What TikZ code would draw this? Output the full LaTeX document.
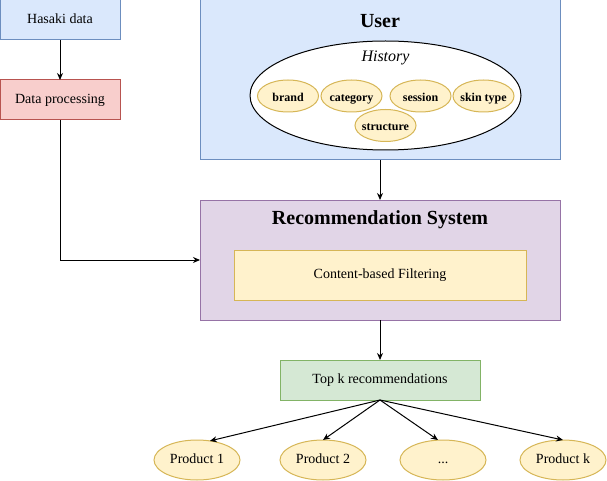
\documentclass[tikz,border=0pt]{standalone}
\usepackage{fontspec}
\setmainfont{Liberation Serif}
\usetikzlibrary{shapes.geometric,arrows.meta,calc}
\definecolor{bluefill}{HTML}{DAE8FC}
\definecolor{bluedraw}{HTML}{6C8EBF}
\definecolor{redfill}{HTML}{F8CECC}
\definecolor{reddraw}{HTML}{B85450}
\definecolor{purplefill}{HTML}{E1D5E7}
\definecolor{purpledraw}{HTML}{9673A6}
\definecolor{yellowfill}{HTML}{FFF2CC}
\definecolor{yellowdraw}{HTML}{D6B656}
\definecolor{greenfill}{HTML}{D5E8D4}
\definecolor{greendraw}{HTML}{82B366}
\begin{document}
\begin{tikzpicture}[x=1pt,y=-1pt,
  every node/.style={inner sep=0pt, outer sep=0pt},
  boxnode/.style={rectangle, draw, line width=1pt, font=\fontsize{14}{16}\selectfont, text height=9.5pt, text depth=3pt},
  bluebox/.style={boxnode, fill=bluefill, draw=bluedraw},
  redbox/.style={boxnode, fill=redfill, draw=reddraw},
  purplebox/.style={boxnode, fill=purplefill, draw=purpledraw},
  yellowbox/.style={boxnode, fill=yellowfill, draw=yellowdraw},
  greenbox/.style={boxnode, fill=greenfill, draw=greendraw},
  titletext/.style={font=\fontsize{20}{22}\selectfont\bfseries},
  attr/.style={ellipse, draw=yellowdraw, fill=yellowfill, line width=1pt,
    minimum width=61pt, minimum height=32pt, font=\fontsize{12}{14}\selectfont\bfseries,
    text height=13.5pt, text depth=2.6pt, inner xsep=-3pt},
  prod/.style={ellipse, draw=yellowdraw, fill=yellowfill, line width=1pt,
    minimum width=86pt, minimum height=40pt, font=\fontsize{14}{16}\selectfont,
    text height=9.5pt, text depth=3pt},
  conn/.style={draw=black, line width=1pt, -{Stealth[length=7pt,width=6pt]}}
]
\useasboundingbox (0,0) rectangle (607,481);

\node[bluebox, minimum width=120pt, minimum height=40pt] (hasaki) at (60,20) {Hasaki data};
\node[redbox, minimum width=120pt, minimum height=40pt] (dp) at (60,100) {Data processing};

\node[bluebox, minimum width=360pt, minimum height=160pt] (user) at (380,80) {};
\node[titletext] (usertitle) at (380,21) {User};
\node[ellipse, draw=black, fill=white, line width=1pt, minimum width=271pt, minimum height=109pt] (history) at (385.5,95.5) {};
\node[font=\fontsize{16}{18}\selectfont\itshape] (histtitle) at (385.5,57.5) {History};
\node[attr] (brand) at (288,96) {brand};
\node[attr] (category) at (351.5,96) {category};
\node[attr] (session) at (420.5,96) {session};
\node[attr] (skin) at (483.5,96) {skin type};
\node[attr] (structure) at (385.5,125.5) {structure};

\node[purplebox, minimum width=360pt, minimum height=120pt] (rs) at (380,260) {};
\node[titletext] (rstitle) at (380,220) {Recommendation System};
\node[yellowbox, minimum width=292pt, minimum height=50pt] (cbf) at (380,275) {Content-based Filtering};

\node[greenbox, minimum width=200pt, minimum height=40pt] (topk) at (380,380) {Top k recommendations};

\node[prod] (p1) at (197,460) {Product 1};
\node[prod] (p2) at (323,460) {Product 2};
\node[prod] (p3) at (443,460) {...};
\node[prod] (pk) at (563,460) {Product k};

\draw[conn] (hasaki.south) -- (dp.north);
\draw[conn] (dp.south) |- (rs.west);
\draw[conn] (user.south) -- (rs.north);
\draw[conn] (rs.south) -- (topk.north);
\draw[conn] (topk.south) -- (p1.56);
\draw[conn] (topk.south) -- (p2.north);
\draw[conn] (topk.south) -- ($(p3.north)+(-5,0)$);
\draw[conn] (topk.south) -- (pk.north);
\end{tikzpicture}
\end{document}
